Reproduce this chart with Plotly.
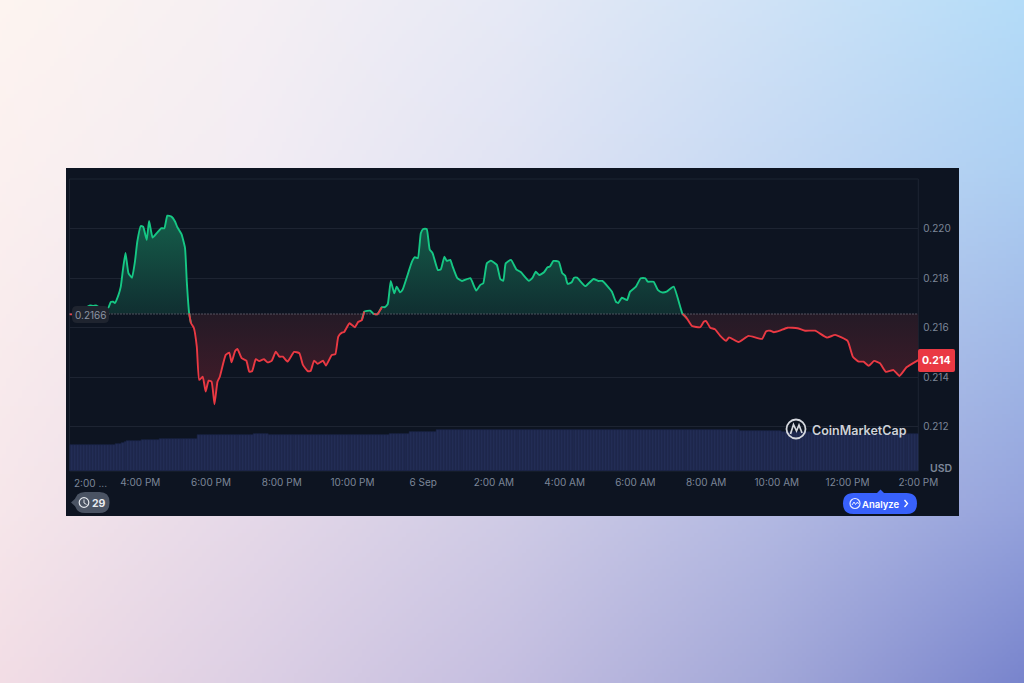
import base64
import struct
import zlib

import numpy as np
import pandas as pd
import plotly.graph_objects as go

W, H = 1024, 683

# minutes after 2:00 PM on 5 Sep
minutes = [
    0, 4, 18, 35, 40, 45, 52, 60, 66, 70, 74, 77, 83, 87, 91, 95, 100, 106, 111, 115,
    121, 125, 131, 135, 141, 148, 156, 161, 166, 173, 179, 183, 190, 196, 199, 203, 206, 211, 216, 220,
    226, 231, 236, 241, 246, 251, 255, 265, 271, 275, 281, 285, 292, 300, 305, 310, 316, 322, 330, 336,
    343, 350, 356, 362, 370, 381, 390, 396, 404, 409, 415, 421, 430, 435, 445, 451, 456, 462, 466, 475,
    484, 490, 496, 500, 510, 516, 522, 530, 535, 540, 545, 551, 555, 561, 565, 581, 586, 591, 596, 600,
    606, 611, 616, 625, 630, 636, 640, 646, 650, 658, 666, 680, 690, 697, 702, 708, 715, 725, 731, 736,
    740, 749, 758, 766, 779, 785, 791, 797, 805, 811, 815, 821, 830, 836, 841, 845, 852, 856, 861, 875,
    889, 897, 904, 920, 927, 931, 937, 946, 951, 961, 969, 977, 981, 991, 998, 1005, 1013, 1025, 1040, 1047,
    1056, 1070, 1076, 1080, 1087, 1095, 1104, 1114, 1119, 1135, 1152, 1175, 1182, 1189, 1195, 1205, 1218, 1235, 1248, 1265,
    1285, 1299, 1320, 1329, 1339, 1347, 1356, 1365, 1375, 1385, 1398, 1408, 1420, 1440,
]
prices = [
    .21655, .21655, .21669, .21691, .21689, .21691, .21681, .21677, .21682, .21705,
    .21706, .21701, .21733, .21767, .21842, .21903, .21822, .21803, .21868, .21949,
    .22012, .22009, .21956, .22032, .21965, .21983, .22003, .22003, .22054, .22050,
    .22030, .22007, .21979, .21923, .21787, .21659, .21620, .21600, .21524, .21390,
    .21403, .21343, .21387, .21383, .21292, .21383, .21403, .21491, .21500, .21461,
    .21507, .21515, .21478, .21468, .21423, .21426, .21474, .21466, .21474, .21461,
    .21467, .21504, .21484, .21484, .21464, .21503, .21498, .21451, .21426, .21426,
    .21468, .21455, .21468, .21448, .21491, .21494, .21565, .21581, .21584, .21619,
    .21603, .21625, .21632, .21666, .21670, .21657, .21655, .21684, .21684, .21697,
    .21790, .21740, .21767, .21744, .21754, .21868, .21886, .21882, .21983, .22000,
    .22000, .21918, .21902, .21834, .21837, .21888, .21871, .21875, .21848, .21801,
    .21790, .21801, .21751, .21774, .21781, .21861, .21872, .21855, .21797, .21791,
    .21861, .21875, .21837, .21825, .21791, .21801, .21827, .21814, .21825, .21845,
    .21848, .21871, .21868, .21821, .21811, .21778, .21785, .21803, .21803, .21769,
    .21798, .21790, .21790, .21747, .21706, .21701, .21722, .21713, .21747, .21767,
    .21801, .21801, .21787, .21787, .21754, .21744, .21747, .21767, .21657, .21640,
    .21608, .21603, .21625, .21628, .21601, .21595, .21568, .21548, .21562, .21543,
    .21568, .21556, .21587, .21589, .21583, .21589, .21601, .21599, .21589, .21589,
    .21561, .21572, .21548, .21484, .21464, .21464, .21447, .21467, .21457, .21423,
    .21430, .21406, .21441, .21470,
]
baseline = 0.21657

# one bar every 5 minutes, one row per hour
volumes = [
    9.0, 9.0, 9.0, 9.0, 9.0, 9.0, 9.0, 9.0, 9.0, 9.0, 9.0, 9.0,
    9.0, 9.0, 9.0, 9.0, 9.2, 9.4, 9.6, 9.9, 10.2, 10.2, 10.2, 10.2,
    10.2, 10.5, 10.5, 10.5, 10.5, 10.5, 10.5, 11.1, 11.1, 11.1, 11.1, 11.1,
    11.1, 11.1, 11.1, 11.1, 11.1, 11.1, 11.1, 11.1, 12.4, 12.4, 12.4, 12.4,
    12.4, 12.4, 12.4, 12.4, 12.4, 12.4, 12.4, 12.4, 12.4, 12.4, 12.4, 12.4,
    12.4, 12.4, 12.4, 12.8, 12.8, 12.8, 12.8, 12.8, 12.5, 12.5, 12.5, 12.5,
    12.5, 12.5, 12.5, 12.5, 12.5, 12.5, 12.5, 12.5, 12.5, 12.5, 12.5, 12.5,
    12.5, 12.5, 12.5, 12.5, 12.5, 12.5, 12.5, 12.5, 12.5, 12.5, 12.5, 12.5,
    12.5, 12.5, 12.5, 12.5, 12.5, 12.5, 12.5, 12.5, 12.5, 12.5, 12.5, 12.5,
    12.5, 12.7, 12.7, 12.7, 12.7, 12.8, 12.8, 12.8, 13.2, 13.2, 13.2, 13.2,
    13.2, 13.2, 13.2, 13.2, 13.2, 13.9, 13.9, 13.9, 13.9, 13.9, 13.9, 13.9,
    13.9, 13.9, 13.9, 13.9, 13.9, 13.9, 13.9, 13.9, 13.9, 13.9, 14.1, 13.9,
    13.9, 13.9, 13.9, 13.9, 13.9, 13.9, 13.9, 13.9, 13.9, 13.9, 13.9, 13.9,
    13.9, 13.9, 13.9, 13.9, 13.9, 13.9, 13.9, 13.9, 13.9, 13.9, 13.9, 13.9,
    13.9, 13.9, 13.9, 13.9, 13.9, 13.9, 13.9, 13.9, 13.9, 13.9, 13.9, 13.9,
    13.9, 13.9, 13.9, 13.9, 13.9, 13.9, 13.9, 13.9, 13.9, 13.9, 13.9, 13.9,
    13.9, 13.9, 13.9, 13.9, 13.9, 13.9, 13.9, 13.9, 13.9, 13.9, 13.9, 13.9,
    13.9, 13.9, 13.9, 13.9, 13.9, 13.9, 13.9, 13.9, 13.9, 13.9, 13.9, 13.9,
    13.9, 13.9, 13.9, 13.9, 13.9, 13.9, 13.9, 13.9, 13.9, 13.9, 13.9, 13.9,
    13.8, 13.8, 13.8, 13.8, 13.8, 13.8, 13.8, 13.8, 13.8, 13.8, 13.8, 13.8,
    13.8, 13.8, 13.5, 13.5, 13.5, 13.5, 13.5, 13.5, 13.5, 13.5, 13.5, 13.5,
    12.9, 12.6, 12.6, 12.6, 12.6, 12.6, 12.6, 12.6, 12.6, 12.6, 12.6, 12.6,
    12.6, 12.6, 12.6, 12.6, 12.6, 12.6, 12.6, 12.6, 12.6, 12.6, 12.6, 12.6,
    12.6, 12.6, 12.6, 12.6, 12.6, 12.6, 12.6, 12.6, 12.6, 12.6, 12.6, 12.6,
    12.6,
]

tick_times = [
    "2025-09-05 16:00", "2025-09-05 18:00", "2025-09-05 20:00", "2025-09-05 22:00",
    "2025-09-06 00:00", "2025-09-06 02:00", "2025-09-06 04:00", "2025-09-06 06:00",
    "2025-09-06 08:00", "2025-09-06 10:00", "2025-09-06 12:00", "2025-09-06 14:00",
]
tick_labels = [
    "4:00 PM", "6:00 PM", "8:00 PM", "10:00 PM", "6 Sep", "2:00 AM",
    "4:00 AM", "6:00 AM", "8:00 AM", "10:00 AM", "12:00 PM", "2:00 PM",
]
price_ticks = [0.212, 0.214, 0.216, 0.218, 0.220]

GREEN = "#16c784"
RED = "#ea3943"
PANEL = "#0d1421"
GRID = "#1d2432"
MUTED = "#7c8698"
FONT = "Inter, Roboto, sans-serif"


def px(x):
    return x / W


def py(y):
    return 1 - y / H


def background_png():
    # soft page gradient, corner colours
    rows = [
        ["#fdf4f0", "#f5eff3", "#e6e9f5", "#cfe2f6", "#b4dcf8"],
        ["#fbf0ef", "#f2ecf3", "#e0e3f3", "#c6d9f3", "#adcff2"],
        ["#f6e6ea", "#e5d8e8", "#cfcbe5", "#b3b9e2", "#95a3dc"],
        ["#f2dde5", "#dccfe4", "#c4bee0", "#a3a8d8", "#7985cd"],
    ]
    grid = np.array([[[int(c[i:i + 2], 16) for i in (1, 3, 5)] for c in r] for r in rows], float)
    w, h = 256, 171
    xs = np.linspace(0, 4, w)
    ys = np.interp(np.linspace(0, 683, h), [0, 170, 512, 683], [0, 1, 2, 3])
    x0 = np.clip(xs.astype(int), 0, 3)
    y0 = np.clip(ys.astype(int), 0, 2)
    fx = (xs - x0)[None, :, None]
    fy = (ys - y0)[:, None, None]
    top = grid[y0][:, x0] * (1 - fx) + grid[y0][:, x0 + 1] * fx
    bot = grid[y0 + 1][:, x0] * (1 - fx) + grid[y0 + 1][:, x0 + 1] * fx
    img = (top * (1 - fy) + bot * fy).round().astype(np.uint8)
    raw = b"".join(b"\x00" + row.tobytes() for row in img)

    def chunk(tag, data):
        return struct.pack(">I", len(data)) + tag + data + struct.pack(">I", zlib.crc32(tag + data))

    png = b"\x89PNG\r\n\x1a\n" + chunk(b"IHDR", struct.pack(">IIBBBBB", w, h, 8, 2, 0, 0, 0))
    png += chunk(b"IDAT", zlib.compress(raw)) + chunk(b"IEND", b"")
    return "data:image/png;base64," + base64.b64encode(png).decode()


def pill(x0, y0, x1, y1, r):
    return (
        f"M {px(x0 + r)} {py(y0)} L {px(x1 - r)} {py(y0)} Q {px(x1)} {py(y0)} {px(x1)} {py(y0 + r)} "
        f"L {px(x1)} {py(y1 - r)} Q {px(x1)} {py(y1)} {px(x1 - r)} {py(y1)} L {px(x0 + r)} {py(y1)} "
        f"Q {px(x0)} {py(y1)} {px(x0)} {py(y1 - r)} L {px(x0)} {py(y0 + r)} Q {px(x0)} {py(y0)} {px(x0 + r)} {py(y0)} Z"
    )


def poly(points, close=True):
    d = "M " + " L ".join(f"{px(x)} {py(y)}" for x, y in points)
    return d + (" Z" if close else "")


def box(x0, y0, x1, y1, **kw):
    return dict(type="rect", xref="paper", yref="paper", x0=px(x0), x1=px(x1), y0=py(y0), y1=py(y1), **kw)


def path(d, layer="above", **kw):
    return dict(type="path", xref="paper", yref="paper", path=d, layer=layer, **kw)


def circle(cx, cy, r, **kw):
    return dict(type="circle", xref="paper", yref="paper", x0=px(cx - r), x1=px(cx + r),
                y0=py(cy + r), y1=py(cy - r), layer="above", **kw)


def text(x, y, s, size=10, color=MUTED, anchor="center", weight=None):
    return dict(xref="paper", yref="paper", x=px(x), y=py(y), text=s, showarrow=False,
                xanchor=anchor, yanchor="middle",
                font=dict(family=FONT, size=size, color=color, weight=weight))


start = pd.Timestamp("2025-09-05 14:00")
times = [start + pd.Timedelta(minutes=m) for m in minutes]
bar_times = [start + pd.Timedelta(minutes=5 * i) for i in range(len(volumes))]
p = np.array(prices)
above = np.maximum(p, baseline).tolist()
below = np.minimum(p, baseline).tolist()

up = p >= baseline
green_y, red_y = [], []
for i, v in enumerate(prices):
    near = up[max(i - 1, 0):i + 2]
    green_y.append(v if near.any() else None)
    red_y.append(v if not near.all() else None)

fig = go.Figure()

fig.add_trace(go.Bar(x=bar_times, y=volumes, width=300000, marker=dict(color="#222d55", line=dict(color="#1c2546", width=0.6)),
                     yaxis="y2", showlegend=False))

flat = [baseline] * len(times)
fig.add_trace(go.Scatter(x=times, y=flat, mode="lines", line=dict(width=0), showlegend=False))
fig.add_trace(go.Scatter(x=times, y=above, mode="lines", line=dict(width=0), fill="tonexty", showlegend=False,
                         fillgradient=dict(type="vertical", start=baseline, stop=0.2206,
                                           colorscale=[[0, "#102f31"], [1, "#155f4b"]])))
fig.add_trace(go.Scatter(x=times, y=flat, mode="lines", line=dict(width=0), showlegend=False))
fig.add_trace(go.Scatter(x=times, y=below, mode="lines", line=dict(width=0), fill="tonexty", showlegend=False,
                         fillgradient=dict(type="vertical", start=baseline, stop=0.2129,
                                           colorscale=[[0, "#241a26"], [1, "#451b29"]])))
fig.add_trace(go.Scatter(x=times, y=green_y, mode="lines", line=dict(color=GREEN, width=1.9, shape="spline", smoothing=0.4),
                         showlegend=False))
fig.add_trace(go.Scatter(x=times, y=red_y, mode="lines", line=dict(color=RED, width=1.9, shape="spline", smoothing=0.4),
                         showlegend=False))

shapes = [
    box(66, 168, 959, 516, fillcolor=PANEL, line_width=0, layer="below"),
    box(69.5, 179, 918.3, 471, fillcolor="rgba(0,0,0,0)", line=dict(color=GRID, width=1), layer="below"),
    dict(type="line", xref="paper", yref="paper", x0=px(69.5), x1=px(918.3), y0=py(314), y1=py(314),
         line=dict(color="#8a8f9a", width=1, dash="1px,2px")),
    # opening price tag
    path(pill(72, 306, 109, 323, 5), fillcolor="#1f242f", line_width=0),
    # history pill
    path(pill(75, 492, 109.5, 513, 10), fillcolor="#4a5363", line_width=0),
    path(poly([(71, 502.5), (77, 497), (77, 508)]), fillcolor="#4a5363", line_width=0),
    circle(84, 502.5, 4.8, line=dict(color="#e4e7ec", width=1.2)),
    path(poly([(84, 499.5), (84, 503), (86.5, 504.5)], close=False), line=dict(color="#e4e7ec", width=1)),
    # current price tag
    path(pill(918, 349, 955, 372, 2), fillcolor=RED, line_width=0),
    # watermark
    circle(796, 429, 9.5, line=dict(color="#d5d8de", width=1.8)),
    path(poly([(790.5, 434), (793.5, 424.5), (796.5, 431), (799, 425), (802, 433)], close=False),
         line=dict(color="#d5d8de", width=1.7)),
    # analyze button
    path(pill(843, 493, 917, 514, 10.5), fillcolor="#3861fb", line_width=0),
    path(poly([(877, 493), (880.5, 489.5), (884, 493)]), fillcolor="#3861fb", line_width=0),
    circle(855, 503.5, 5, line=dict(color="#e8ecff", width=1.2)),
    path(poly([(852, 505), (854, 502), (855.5, 504.5), (857.5, 502), (858.5, 504)], close=False),
         line=dict(color="#e8ecff", width=1)),
    path(poly([(904.5, 500), (907.5, 503.5), (904.5, 507)], close=False), line=dict(color="#ffffff", width=1.3)),
]

annotations = [
    text(90.5, 314.5, "0.2166", size=10, color="#8d94a3"),
    text(90, 483, "2:00 ...", color=MUTED),
    text(98.5, 503, "29", size=10.5, color="#e9ebef", weight=700),
    text(936.5, 360, "0.214", size=10.5, color="#ffffff", weight=700),
    text(941, 468, "USD", size=10.5, color=MUTED, weight=600),
    text(859, 430, "CoinMarketCap", size=12.5, color="#cdd1d8", weight=600),
    text(881, 504, "Analyze", size=9.5, color="#ffffff", weight=600),
]

fig.update_layout(
    width=W,
    height=H,
    autosize=False,
    margin=dict(l=0, r=0, t=0, b=0, autoexpand=False),
    paper_bgcolor="#e0e0ee",
    plot_bgcolor="rgba(0,0,0,0)",
    showlegend=False,
    bargap=0,
    images=[dict(source=background_png(), xref="paper", yref="paper", x=0, y=1, sizex=1, sizey=1,
                 sizing="stretch", xanchor="left", yanchor="top", layer="below")],
    shapes=shapes,
    annotations=annotations,
    xaxis=dict(
        domain=[px(69.5), px(918.3)],
        range=[start, start + pd.Timedelta(hours=24)],
        tickmode="array",
        tickvals=tick_times,
        ticktext=tick_labels,
        showgrid=False,
        zeroline=False,
        showline=False,
        ticks="",
        ticklabelstandoff=4,
        tickfont=dict(family=FONT, size=10, color=MUTED),
    ),
    yaxis=dict(
        domain=[py(471), py(179)],
        range=[0.21022, 0.22202],
        side="right",
        tickmode="array",
        tickvals=price_ticks,
        ticktext=[f"{v:.3f}" for v in price_ticks],
        gridcolor=GRID,
        gridwidth=1,
        zeroline=False,
        showline=False,
        ticks="",
        ticklabelstandoff=4,
        tickfont=dict(family=FONT, size=10, color=MUTED),
    ),
    yaxis2=dict(domain=[py(471), py(179)], range=[0, 100], overlaying="y", visible=False),
)

fig.write_html("out.html", config=dict(displayModeBar=False), post_script="document.body.style.margin='0';")
